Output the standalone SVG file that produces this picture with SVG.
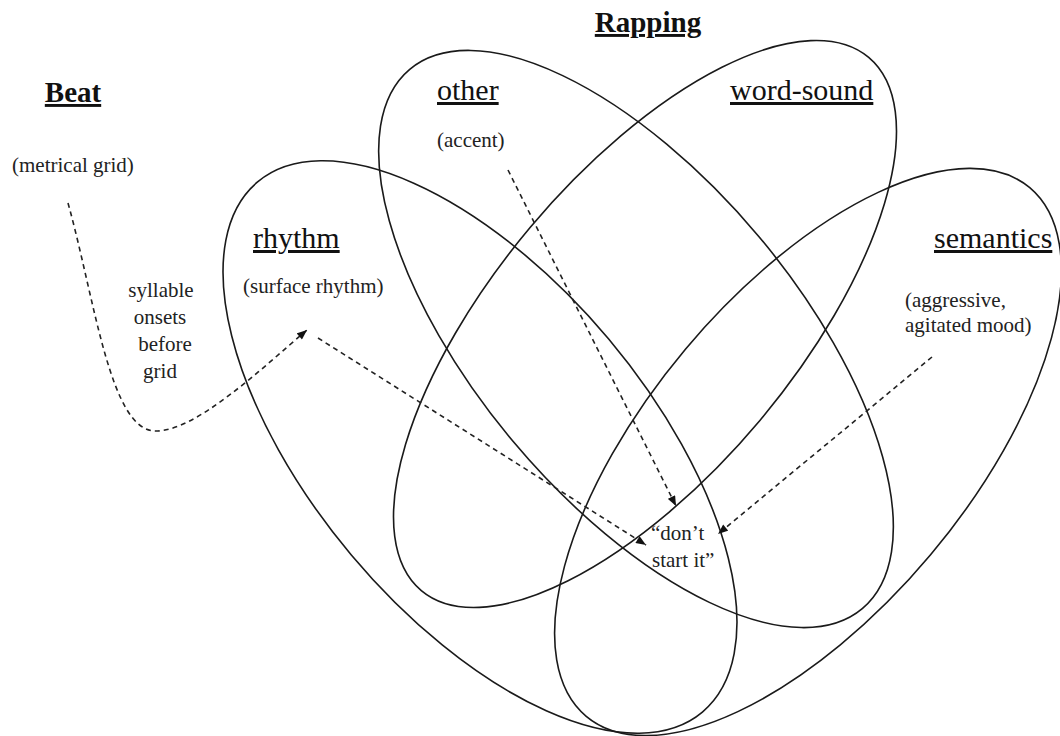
<svg xmlns="http://www.w3.org/2000/svg" width="1060" height="736" viewBox="0 0 1060 736">
  <defs>
    <style>
      .set { fill: none; stroke: #1a1a1a; stroke-width: 1.6; }
      .link { fill: none; stroke: #222; stroke-width: 1.6; stroke-dasharray: 5 4; }
      .head { font-family: "Liberation Serif", "Times New Roman", serif; font-size: 29px; font-weight: bold; text-decoration: underline; fill: #111; }
      .name { font-family: "Liberation Serif", "Times New Roman", serif; font-size: 30px; text-decoration: underline; fill: #111; }
      .note { font-family: "Liberation Serif", "Times New Roman", serif; font-size: 21px; fill: #222; }
    </style>
    <marker id="arrow" viewBox="0 0 10 8" refX="10" refY="4" markerWidth="11" markerHeight="8" markerUnits="userSpaceOnUse" orient="auto">
      <path d="M0,0 L10,4 L0,8 Z" fill="#111"/>
    </marker>
  </defs>
  <rect width="1060" height="736" fill="#fff"/>

  <!-- four overlapping sets -->
  <g id="set-other">
    <ellipse class="set" cx="636" cy="339" rx="352" ry="160" transform="rotate(50 636 339)"/>
    <text class="name" x="437" y="100">other</text>
    <text class="note" x="437" y="147">(accent)</text>
  </g>
  <g id="set-word-sound">
    <ellipse class="set" cx="645" cy="324" rx="348" ry="150" transform="rotate(-50 645 324)"/>
    <text class="name" x="730" y="100">word-sound</text>
  </g>
  <g id="set-rhythm">
    <ellipse class="set" cx="480" cy="447" rx="346" ry="168" transform="rotate(50 480 447)"/>
    <text class="name" x="253" y="248">rhythm</text>
    <text class="note" x="243" y="293">(surface rhythm)</text>
  </g>
  <g id="set-semantics">
    <ellipse class="set" cx="808" cy="452" rx="345" ry="160" transform="rotate(-50 808 452)"/>
    <text class="name" x="934" y="248">semantics</text>
    <text class="note" x="905" y="307">(aggressive,</text>
    <text class="note" x="905" y="332">agitated mood)</text>
  </g>

  <!-- titles -->
  <g id="title-rapping">
    <text class="head" x="648" y="32" text-anchor="middle">Rapping</text>
  </g>
  <g id="title-beat">
    <text class="head" x="73" y="102" text-anchor="middle">Beat</text>
    <text class="note" x="12" y="172">(metrical grid)</text>
  </g>
  <g id="label-onsets" class="note" text-anchor="middle">
    <text class="note" x="161" y="297" text-anchor="middle">syllable</text>
    <text class="note" x="160" y="324" text-anchor="middle">onsets</text>
    <text class="note" x="165" y="351" text-anchor="middle">before</text>
    <text class="note" x="160" y="378" text-anchor="middle">grid</text>
  </g>
  <g id="label-phrase">
    <text class="note" x="651" y="540">“don’t</text>
    <text class="note" x="652" y="567">start it”</text>
  </g>

  <!-- dashed influences -->
  <g id="connectors">
    <path class="link" d="M68,203 C95,300 110,430 155,431 C195,432 260,370 307,330" marker-end="url(#arrow)"/>
    <path class="link" d="M318,338 L646,545" marker-end="url(#arrow)"/>
    <path class="link" d="M508,170 L676,506" marker-end="url(#arrow)"/>
    <path class="link" d="M932,357 L718,534" marker-end="url(#arrow)"/>
  </g>
</svg>
